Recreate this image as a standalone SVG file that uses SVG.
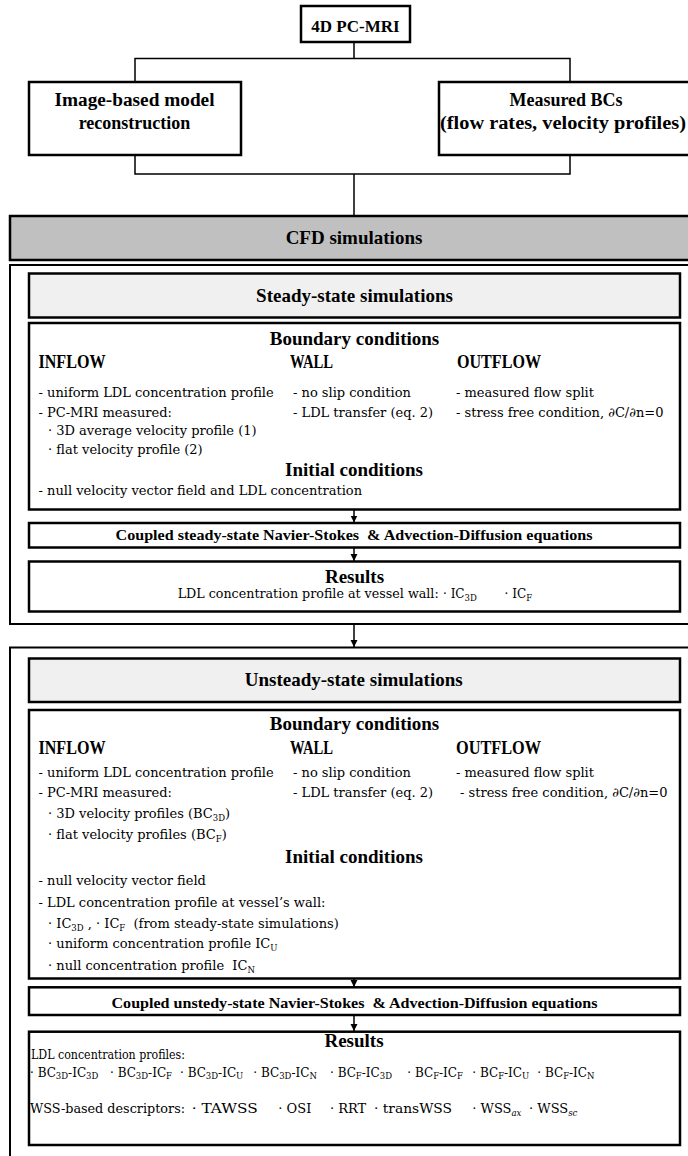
<svg xmlns="http://www.w3.org/2000/svg" width="688" height="1156" viewBox="0 0 688 1156">
<style>
.h{font-family:"Liberation Serif","Times New Roman",serif;font-weight:bold;fill:#000}
.t{font-family:"DejaVu Serif",serif;font-size:13px;fill:#000}
.s{font-family:"DejaVu Serif",serif;font-size:12px;fill:#000}
.w{font-family:"DejaVu Serif",serif;font-size:13px;fill:#000}
.sub{font-size:8.5px}
.box{fill:#fff;stroke:#000;stroke-width:2.5}
.outer{fill:none;stroke:#000;stroke-width:2}
.ln{fill:none;stroke:#000;stroke-width:1.5}
.ar{fill:none;stroke:#000;stroke-width:1.5;marker-end:url(#ah)}
</style>
<defs>
<marker id="ah" markerUnits="userSpaceOnUse" markerWidth="8" markerHeight="8" refX="7" refY="3.5" orient="auto">
<path d="M0,0 L7,3.5 L0,7 z" fill="#000"/>
</marker>
</defs>
<rect width="688" height="1156" fill="#fff"/>

<g id="connectors">
<path class="ln" d="M354,42 V58.5 M135,82 V58.5 H570 V82"/>
<path class="ln" d="M135,155 V174 H570 V155 M354,174 V216"/>
<path class="ar" d="M354,624 V647"/>
<path class="ar" d="M354,509.5 V522.5"/>
<path class="ar" d="M354,547.5 V561"/>
<path class="ar" d="M354,978.5 V987"/>
<path class="ar" d="M354,1015 V1031"/>
</g>

<g id="n-4dpcmri">
<rect class="box" x="301" y="6" width="109" height="36"/>
<text class="h" x="355.5" y="31.5" font-size="17" text-anchor="middle">4D PC-MRI</text>
</g>

<g id="n-image-model">
<rect class="box" x="29" y="82" width="212" height="73"/>
<text class="h" x="134.5" y="106" font-size="18" text-anchor="middle" textLength="160" lengthAdjust="spacingAndGlyphs">Image-based model</text>
<text class="h" x="134.5" y="128.5" font-size="18" text-anchor="middle">reconstruction</text>
</g>

<g id="n-measured-bcs">
<rect class="box" x="439" y="82" width="262" height="73"/>
<text class="h" x="566" y="106" font-size="18" text-anchor="middle">Measured BCs</text>
<text class="h" x="563" y="128.5" font-size="18" text-anchor="middle" textLength="246" lengthAdjust="spacingAndGlyphs">(flow rates, velocity profiles)</text>
</g>

<g id="n-cfd">
<rect x="10" y="216" width="690" height="44" fill="#c0c0c0" stroke="#000" stroke-width="2.5"/>
<text class="h" x="354" y="244" font-size="19" text-anchor="middle">CFD simulations</text>
</g>

<g id="n-steady">
<rect class="outer" x="10" y="265" width="690" height="359"/>
<g id="n-steady-header">
<rect x="29" y="273.5" width="651" height="44" fill="#f0f0f0" stroke="#000" stroke-width="2.5"/>
<text class="h" x="354.5" y="301.5" font-size="19" text-anchor="middle">Steady-state simulations</text>
</g>
<g id="n-steady-conditions">
<rect class="box" x="29" y="323" width="651" height="186.5"/>
<text class="h" x="354.5" y="344.5" font-size="19" text-anchor="middle">Boundary conditions</text>
<text class="h" x="38.5" y="368" font-size="18" textLength="67" lengthAdjust="spacingAndGlyphs">INFLOW</text>
<text class="h" x="290" y="368" font-size="18" textLength="43" lengthAdjust="spacingAndGlyphs">WALL</text>
<text class="h" x="457" y="368" font-size="18" textLength="84" lengthAdjust="spacingAndGlyphs">OUTFLOW</text>
<text class="t" x="38.5" y="397.3">- uniform LDL concentration profile</text>
<text class="t" x="38.5" y="416.7">- PC-MRI measured:</text>
<text class="t" x="48" y="434.5">· 3D average velocity profile (1)</text>
<text class="t" x="48" y="453.5">· flat velocity profile (2)</text>
<text class="t" x="293" y="397.3">- no slip condition</text>
<text class="t" x="293" y="416.7">- LDL transfer (eq. 2)</text>
<text class="t" x="456" y="397.3">- measured flow split</text>
<text class="t" x="456" y="416.7">- stress free condition, ∂C/∂n=0</text>
<text class="h" x="354" y="476" font-size="19" text-anchor="middle">Initial conditions</text>
<text class="t" x="38.5" y="495">- null velocity vector field and LDL concentration</text>
</g>
<g id="n-steady-equations">
<rect class="box" x="29" y="523" width="651" height="24.5"/>
<text class="h" x="354" y="540" font-size="14" text-anchor="middle" textLength="477" lengthAdjust="spacingAndGlyphs">Coupled steady-state Navier-Stokes &#160;&amp; Advection-Diffusion equations</text>
</g>
<g id="n-steady-results">
<rect class="box" x="29" y="561.5" width="651" height="50"/>
<text class="h" x="354.5" y="583.3" font-size="19" text-anchor="middle">Results</text>
<text class="s" x="177.7" y="598.3" font-size="12.5" textLength="261" lengthAdjust="spacingAndGlyphs">LDL concentration profile at vessel wall:</text>
<text class="s" x="443" y="598.3">· IC<tspan class="sub" dy="2.5">3D</tspan></text>
<text class="s" x="504.6" y="598.3">· IC<tspan class="sub" dy="2.5">F</tspan></text>
</g>
</g>

<g id="n-unsteady">
<rect class="outer" x="10" y="647.5" width="690" height="520"/>
<g id="n-unsteady-header">
<rect x="29" y="658.5" width="651" height="43.5" fill="#f0f0f0" stroke="#000" stroke-width="2.5"/>
<text class="h" x="353.7" y="686" font-size="19" text-anchor="middle">Unsteady-state simulations</text>
</g>
<g id="n-unsteady-conditions">
<rect class="box" x="29" y="710" width="651" height="268.5"/>
<text class="h" x="354.5" y="730" font-size="19" text-anchor="middle">Boundary conditions</text>
<text class="h" x="38.5" y="754" font-size="18" textLength="67" lengthAdjust="spacingAndGlyphs">INFLOW</text>
<text class="h" x="290" y="754" font-size="18" textLength="43" lengthAdjust="spacingAndGlyphs">WALL</text>
<text class="h" x="456" y="754" font-size="18" textLength="85" lengthAdjust="spacingAndGlyphs">OUTFLOW</text>
<text class="t" x="38.5" y="777.3">- uniform LDL concentration profile</text>
<text class="t" x="38.5" y="796.7">- PC-MRI measured:</text>
<text class="t" x="48" y="818.3">· 3D velocity profiles (BC<tspan class="sub" font-size="9" dy="2.5">3D</tspan><tspan dy="-2.5">)</tspan></text>
<text class="t" x="48" y="839.3">· flat velocity profiles (BC<tspan class="sub" font-size="9" dy="2.5">F</tspan><tspan dy="-2.5">)</tspan></text>
<text class="t" x="293" y="777.3">- no slip condition</text>
<text class="t" x="293" y="796.7">- LDL transfer (eq. 2)</text>
<text class="t" x="456" y="777.3">- measured flow split</text>
<text class="t" x="460" y="796.7">- stress free condition, ∂C/∂n=0</text>
<text class="h" x="354" y="863.3" font-size="19" text-anchor="middle">Initial conditions</text>
<text class="t" x="38.5" y="885">- null velocity vector field</text>
<text class="t" x="38.5" y="906.7">- LDL concentration profile at vessel’s wall:</text>
<text class="t" x="48" y="928.3">· IC<tspan class="sub" font-size="9" dy="2.5">3D</tspan><tspan dy="-2.5"> , · IC</tspan><tspan class="sub" font-size="9" dy="2.5">F</tspan><tspan dy="-2.5">&#160; (from steady-state simulations)</tspan></text>
<text class="t" x="48" y="948.3">· uniform concentration profile IC<tspan class="sub" font-size="9" dy="2.5">U</tspan></text>
<text class="t" x="48" y="970">· null concentration profile &#160;IC<tspan class="sub" font-size="9" dy="2.5">N</tspan></text>
</g>
<g id="n-unsteady-equations">
<rect class="box" x="29" y="987.3" width="651" height="27.7"/>
<text class="h" x="354.5" y="1008.3" font-size="14.5" text-anchor="middle" textLength="486" lengthAdjust="spacingAndGlyphs">Coupled unstedy-state Navier-Stokes &#160;&amp; Advection-Diffusion equations</text>
</g>
<g id="n-unsteady-results">
<rect class="box" x="29" y="1031.7" width="651" height="113.3"/>
<text class="h" x="354" y="1046.7" font-size="19" text-anchor="middle">Results</text>
<text class="s" x="31" y="1058.5" textLength="154" lengthAdjust="spacingAndGlyphs">LDL concentration profiles:</text>
<text class="s" x="30" y="1076.7">· BC<tspan class="sub" dy="2.5">3D</tspan><tspan dy="-2.5">-IC</tspan><tspan class="sub" dy="2.5">3D</tspan></text>
<text class="s" x="110" y="1076.7">· BC<tspan class="sub" dy="2.5">3D</tspan><tspan dy="-2.5">-IC</tspan><tspan class="sub" dy="2.5">F</tspan></text>
<text class="s" x="180" y="1076.7">· BC<tspan class="sub" dy="2.5">3D</tspan><tspan dy="-2.5">-IC</tspan><tspan class="sub" dy="2.5">U</tspan></text>
<text class="s" x="253.3" y="1076.7">· BC<tspan class="sub" dy="2.5">3D</tspan><tspan dy="-2.5">-IC</tspan><tspan class="sub" dy="2.5">N</tspan></text>
<text class="s" x="330" y="1076.7">· BC<tspan class="sub" dy="2.5">F</tspan><tspan dy="-2.5">-IC</tspan><tspan class="sub" dy="2.5">3D</tspan></text>
<text class="s" x="407.3" y="1076.7">· BC<tspan class="sub" dy="2.5">F</tspan><tspan dy="-2.5">-IC</tspan><tspan class="sub" dy="2.5">F</tspan></text>
<text class="s" x="472.3" y="1076.7">· BC<tspan class="sub" dy="2.5">F</tspan><tspan dy="-2.5">-IC</tspan><tspan class="sub" dy="2.5">U</tspan></text>
<text class="s" x="537.3" y="1076.7">· BC<tspan class="sub" dy="2.5">F</tspan><tspan dy="-2.5">-IC</tspan><tspan class="sub" dy="2.5">N</tspan></text>
<text class="w" x="30" y="1113.3" textLength="155" lengthAdjust="spacingAndGlyphs">WSS-based descriptors:</text>
<text class="w" x="191.7" y="1113.3" textLength="66" lengthAdjust="spacingAndGlyphs">· TAWSS</text>
<text class="w" x="278.3" y="1113.3">· OSI</text>
<text class="w" x="330" y="1113.3">· RRT</text>
<text class="w" x="374" y="1113.3" textLength="78" lengthAdjust="spacingAndGlyphs">· transWSS</text>
<text class="w" x="472.3" y="1113.3">· WSS<tspan class="sub" font-size="9" dy="2.5" font-style="italic">ax</tspan></text>
<text class="w" x="529" y="1113.3">· WSS<tspan class="sub" font-size="9" dy="2.5" font-style="italic">sc</tspan></text>
</g>
</g>
</svg>
